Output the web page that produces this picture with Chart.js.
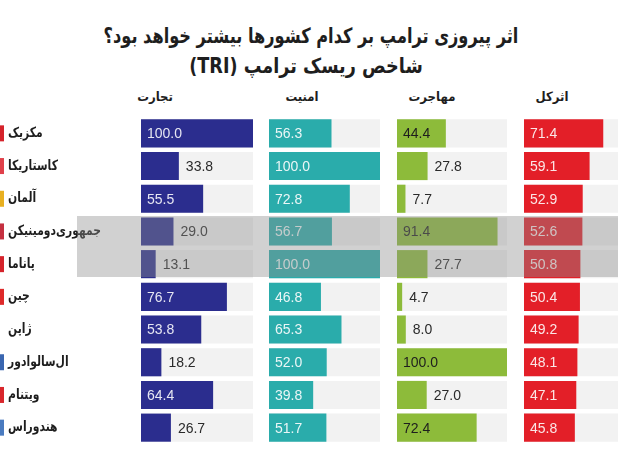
<!DOCTYPE html>
<html><head><meta charset="utf-8">
<script src="https://cdn.jsdelivr.net/npm/chart.js@4.4.1/dist/chart.umd.min.js"></script>
<style>
html,body{margin:0;padding:0;background:#fff}
body{width:618px;height:450px;overflow:hidden;position:relative;font-family:'DejaVu Sans',sans-serif}
.t{position:absolute;white-space:nowrap;direction:rtl;color:#1e1e1e;font-weight:bold}
canvas{position:absolute}
#wm{position:absolute;left:77px;top:216px;width:560px;height:61px;background:rgba(140,140,140,0.4)}
</style>
</head><body>
<div class="t" style="left:311px;top:36px;font-size:21px;transform:translate(-50%,-50%) scaleX(0.77)">اثر پیروزی ترامپ بر کدام کشورها بیشتر خواهد بود؟</div>
<div class="t" style="left:306px;top:66px;font-size:21px;transform:translate(-50%,-50%) scaleX(0.84)">شاخص ریسک ترامپ (TRI)</div>
<div class="t" id="h0" style="left:155px;top:96px;font-size:13px;transform:translate(-50%,-50%) scaleX(0.9)"></div>
<div class="t" id="h1" style="left:302px;top:96px;font-size:13px;transform:translate(-50%,-50%) scaleX(0.9)"></div>
<div class="t" id="h2" style="left:432px;top:96px;font-size:13px;transform:translate(-50%,-50%) scaleX(0.9)"></div>
<div class="t" id="h3" style="left:552px;top:96px;font-size:13px;transform:translate(-50%,-50%) scaleX(0.9)"></div>
<canvas id="c0" width="253" height="327" style="left:0px;top:117px"></canvas>
<canvas id="c1" width="111" height="327" style="left:269px;top:117px"></canvas>
<canvas id="c2" width="110" height="327" style="left:397px;top:117px"></canvas>
<canvas id="c3" width="111" height="327" style="left:524px;top:117px"></canvas>
<div id="wm"></div>
<script>
const countries = ['مکزیک','کاستاریکا','آلمان','جمهوری‌دومینیکن','پاناما','چین','ژاپن','ال‌سالوادور','ویتنام','هندوراس'];
const panelTitles = ['تجارت','امنیت','مهاجرت','اثرکل'];
const tradeValues = [100.0, 33.8, 55.5, 29.0, 13.1, 76.7, 53.8, 18.2, 64.4, 26.7];
const securityValues = [56.3, 100.0, 72.8, 56.7, 100.0, 46.8, 65.3, 52.0, 39.8, 51.7];
const migrationValues = [44.4, 27.8, 7.7, 91.4, 27.7, 4.7, 8.0, 100.0, 27.0, 72.4];
const totalValues = [71.4, 59.1, 52.9, 52.6, 50.8, 50.4, 49.2, 48.1, 47.1, 45.8];
const scaleMax = 100;

panelTitles.forEach((t,i)=>{document.getElementById('h'+i).textContent=t;});

const flagColors = ['#d5232b','#e0404a','#e8b020','#c53040','#d5232b','#de2a2a',null,'#3a66b0','#d9262c','#4a7bc0'];

const valueLabels = {
  id:'valueLabels',
  afterDatasetsDraw(chart, args, opts){
    const meta = chart.getDatasetMeta(0);
    const vals = chart.data.datasets[0].data;
    const ctx = chart.ctx;
    ctx.save();
    ctx.font = '14px "Liberation Sans", Arial, sans-serif';
    ctx.textBaseline = 'middle';
    ctx.textAlign = 'left';
    meta.data.forEach((bar,i)=>{
      const v = vals[i];
      const txt = v.toFixed(1);
      if (v >= 35) { ctx.fillStyle = opts.inside; ctx.fillText(txt, bar.base + 6, bar.y + 1); }
      else { ctx.fillStyle = '#2a2a2a'; ctx.fillText(txt, bar.x + 7, bar.y + 1); }
    });
    ctx.restore();
  }
};

const countryLabels = {
  id:'countryLabels',
  afterDraw(chart){
    const ys = chart.scales.y;
    const ctx = chart.ctx;
    ctx.save();
    ctx.font = 'bold 14px "DejaVu Sans"';
    ctx.textBaseline = 'middle';
    ctx.textAlign = 'left';
    ctx.fillStyle = '#1e1e1e';
    chart.data.labels.forEach((lab,i)=>{
      const y = ys.getPixelForValue(i);
      const col = flagColors[i];
      if (col) { ctx.fillStyle = col; ctx.fillRect(0, y-8, 4, 16); ctx.fillStyle = '#1e1e1e'; }
      ctx.save();
      ctx.translate(8, y);
      ctx.scale(0.77, 1);
      ctx.fillText(lab, 0, 0);
      ctx.restore();
    });
    ctx.restore();
  }
};

function makeChart(id, values, color, insideColor, showLabels){
  const plugins = [valueLabels];
  if (showLabels) plugins.push(countryLabels);
  return new Chart(document.getElementById(id), {
    type:'bar',
    data:{
      labels: countries,
      datasets:[
        {data: values, backgroundColor: color, order: 1},
        {data: countries.map(()=>scaleMax), backgroundColor: '#f2f2f2', order: 2}
      ]
    },
    options:{
      indexAxis:'y',
      responsive:false,
      animation:false,
      layout:{padding:{left: showLabels ? 141 : 0, right:0, top:0, bottom:0}},
      datasets:{bar:{grouped:false, barPercentage:0.86, categoryPercentage:1, borderWidth:0}},
      plugins:{legend:{display:false}, tooltip:{enabled:false}, title:{display:false}, valueLabels:{inside: insideColor}},
      scales:{
        x:{display:false, min:0, max:scaleMax},
        y:{display:false}
      }
    },
    plugins
  });
}

makeChart('c0', tradeValues, '#2b2d8e', '#e6e6f2', true);
makeChart('c1', securityValues, '#2aacab', '#eaf6f6', false);
makeChart('c2', migrationValues, '#8dbb3a', '#1e1e1e', false);
makeChart('c3', totalValues, '#e31f28', '#fbe6e6', false);
</script>
</body></html>
